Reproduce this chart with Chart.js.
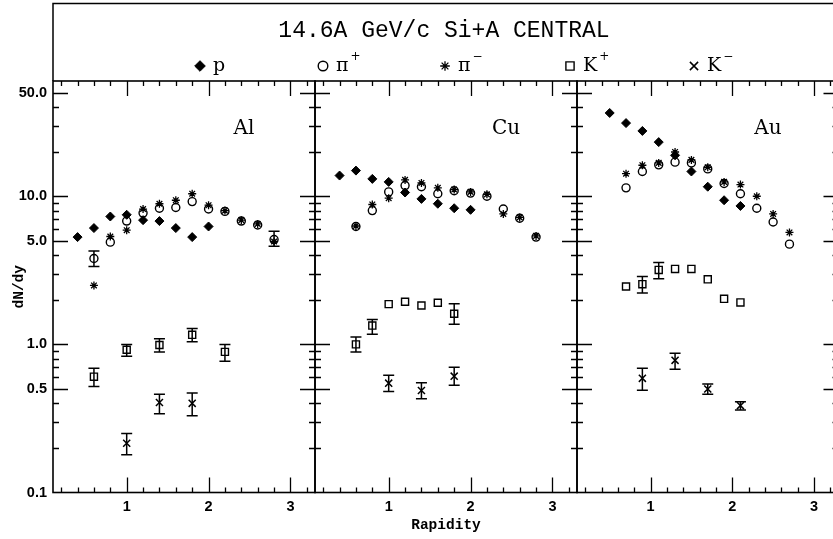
<!DOCTYPE html>
<html><head><meta charset="utf-8">
<script src="https://cdn.jsdelivr.net/npm/chart.js@4/dist/chart.umd.min.js"></script>
<style>
html,body{margin:0;padding:0;background:#fff;overflow:hidden}
#wrap{position:relative;width:833px;height:539px;overflow:hidden;background:#fff}
#wrap canvas{position:absolute;left:0;top:0}
</style></head>
<body><div id="wrap">
<canvas id="c0" width="845" height="539" style="width:845px;height:539px"></canvas>
<canvas id="c1" width="845" height="539" style="width:845px;height:539px"></canvas>
<canvas id="c2" width="845" height="539" style="width:845px;height:539px"></canvas>
</div>
<script>
// ---------------- data ----------------
const titleText = '14.6A GeV/c Si+A CENTRAL';
const speciesLabels = ['p', 'π+', 'π−', 'K+', 'K−'];
const panelNames = ['Al', 'Cu', 'Au'];
const xTickVals = [1, 2, 3];
const xTickLabels = ['1', '2', '3'];
const yTickVals = [0.1, 0.5, 1, 5, 10, 50];
const yTickLabels = ['0.1', '0.5', '1.0', '5.0', '10.0', '50.0'];

// Al
const alPX = [0.4, 0.6, 0.8, 1.0, 1.2, 1.4, 1.6, 1.8, 2.0];
const alP = [5.3, 6.1, 7.3, 7.5, 6.9, 6.8, 6.1, 5.3, 6.25];
const alPiX = [0.6, 0.8, 1.0, 1.2, 1.4, 1.6, 1.8, 2.0, 2.2, 2.4, 2.6, 2.8];
const alPip = [3.8, 4.9, 6.8, 7.7, 8.3, 8.4, 9.2, 8.2, 7.9, 6.8, 6.4, 5.1];
const alPipLo = [3.36, null, null, null, null, null, null, null, null, null, null, 4.6];
const alPipHi = [4.27, null, null, null, null, null, null, null, null, null, null, 5.8];
const alPim = [2.5, 5.35, 5.9, 8.2, 8.9, 9.4, 10.4, 8.7, 8.0, 6.9, 6.5, 4.95];
const alKpX = [0.6, 1.0, 1.4, 1.8, 2.2];
const alKp = [0.605, 0.92, 0.99, 1.16, 0.89];
const alKpLo = [0.52, 0.83, 0.89, 1.04, 0.77];
const alKpHi = [0.69, 1.0, 1.09, 1.28, 1.0];
const alKmX = [1.0, 1.4, 1.8];
const alKm = [0.215, 0.405, 0.40];
const alKmLo = [0.18, 0.34, 0.33];
const alKmHi = [0.25, 0.46, 0.47];

// Cu
const cuPX = [0.4, 0.6, 0.8, 1.0, 1.2, 1.4, 1.6, 1.8, 2.0];
const cuP = [13.8, 14.9, 13.1, 12.5, 10.6, 9.6, 8.9, 8.3, 8.1];
const cuPiX = [0.6, 0.8, 1.0, 1.2, 1.4, 1.6, 1.8, 2.0, 2.2, 2.4, 2.6, 2.8];
const cuPip = [6.25, 8.0, 10.7, 11.8, 11.6, 10.4, 10.9, 10.5, 10.0, 8.2, 7.1, 5.3];
const cuPim = [6.3, 8.8, 9.7, 12.9, 12.3, 11.4, 11.1, 10.7, 10.3, 7.6, 7.2, 5.4];
const cuKpX = [0.6, 0.8, 1.0, 1.2, 1.4, 1.6, 1.8];
const cuKp = [1.0, 1.34, 1.87, 1.94, 1.83, 1.91, 1.61];
const cuKpLo = [0.89, 1.17, null, null, null, null, 1.37];
const cuKpHi = [1.12, 1.47, null, null, null, null, 1.88];
const cuKmX = [1.0, 1.4, 1.8];
const cuKm = [0.547, 0.488, 0.61];
const cuKmLo = [0.48, 0.43, 0.53];
const cuKmHi = [0.62, 0.55, 0.70];

// Au
const auPX = [0.5, 0.7, 0.9, 1.1, 1.3, 1.5, 1.7, 1.9, 2.1];
const auP = [36.5, 31.2, 27.6, 23.2, 18.9, 14.7, 11.6, 9.4, 8.6];
const auPiX = [0.7, 0.9, 1.1, 1.3, 1.5, 1.7, 1.9, 2.1, 2.3, 2.5, 2.7];
const auPip = [11.4, 14.7, 16.3, 17.0, 16.8, 15.3, 12.2, 10.4, 8.3, 6.7, 4.75];
const auPim = [14.2, 16.2, 16.8, 19.9, 17.6, 15.7, 12.5, 12.0, 10.0, 7.6, 5.7];
const auKpX = [0.7, 0.9, 1.1, 1.3, 1.5, 1.7, 1.9, 2.1];
const auKp = [2.46, 2.55, 3.18, 3.23, 3.23, 2.75, 2.03, 1.92];
const auKpLo = [null, 2.22, 2.77, null, null, null, null, null];
const auKpHi = [null, 2.87, 3.57, null, null, null, null, null];
const auKmX = [0.9, 1.3, 1.7, 2.1];
const auKm = [0.59, 0.78, 0.50, 0.386];
const auKmLo = [0.49, 0.68, 0.46, 0.36];
const auKmHi = [0.69, 0.87, 0.54, 0.41];

// ---------------- styling / layout ----------------
const W = 845, H = 539;
const PANEL_LEFT0 = 53, PANEL_W = 262, PLOT_TOP = 81, PLOT_BOTTOM = 492.5;
const styles = [
  {pointStyle: 'rectRot', radius: 4.5, backgroundColor: '#000', borderColor: '#000', borderWidth: 1},
  {pointStyle: 'circle', radius: 4, backgroundColor: 'rgba(0,0,0,0)', borderColor: '#000', borderWidth: 1.4},
  {pointStyle: 'star', radius: 4, backgroundColor: 'rgba(0,0,0,0)', borderColor: '#000', borderWidth: 1.3},
  {pointStyle: 'rect', radius: 5, backgroundColor: 'rgba(0,0,0,0)', borderColor: '#000', borderWidth: 1.4},
  {pointStyle: 'crossRot', radius: 5, backgroundColor: 'rgba(0,0,0,0)', borderColor: '#000', borderWidth: 1.5}
];
const legendSymX = [200, 323, 445, 570, 694];
const legendY = 66;

function pts(xs, ys) { return xs.map((x, i) => ({x: x, y: ys[i]})); }

const panelData = [
  [[alPX, alP], [alPiX, alPip, alPipLo, alPipHi], [alPiX, alPim], [alKpX, alKp, alKpLo, alKpHi], [alKmX, alKm, alKmLo, alKmHi]],
  [[cuPX, cuP], [cuPiX, cuPip], [cuPiX, cuPim], [cuKpX, cuKp, cuKpLo, cuKpHi], [cuKmX, cuKm, cuKmLo, cuKmHi]],
  [[auPX, auP], [auPiX, auPip], [auPiX, auPim], [auKpX, auKp, auKpLo, auKpHi], [auKmX, auKm, auKmLo, auKmHi]]
];

const yMajor = [0.5, 1, 5, 10, 50];
const yMinor = [0.2, 0.3, 0.4, 0.6, 0.7, 0.8, 0.9, 2, 3, 4, 6, 7, 8, 9, 20, 30, 40];
const xMajor = [1, 2, 3];
const xMinor = [0.2, 0.4, 0.6, 0.8, 1.2, 1.4, 1.6, 1.8, 2.2, 2.4, 2.6, 2.8, 3.2];

const panelPlugin = {
  id: 'panelDecor',
  beforeDatasetsDraw(chart) {
    const ctx = chart.ctx, a = chart.chartArea;
    const xs = chart.scales.x, ys = chart.scales.y;
    ctx.save();
    ctx.strokeStyle = '#000';
    ctx.lineWidth = 1.6;
    ctx.strokeRect(a.left, a.top, a.right - a.left, a.bottom - a.top);
    ctx.lineWidth = 1.3;
    ctx.beginPath();
    const tickY = (v, len) => {
      const y = Math.round(ys.getPixelForValue(v)) + 0.5;
      ctx.moveTo(a.left, y); ctx.lineTo(a.left + len, y);
      ctx.moveTo(a.right, y); ctx.lineTo(a.right - len, y);
    };
    const tickX = (v, len) => {
      const x = Math.round(xs.getPixelForValue(v)) + 0.5;
      ctx.moveTo(x, a.bottom); ctx.lineTo(x, a.bottom - len);
      ctx.moveTo(x, a.top); ctx.lineTo(x, a.top + len);
    };
    yMajor.forEach(v => tickY(v, 15));
    yMinor.forEach(v => tickY(v, 6));
    xMajor.forEach(v => tickX(v, 15));
    xMinor.forEach(v => tickX(v, 5));
    ctx.stroke();
    ctx.restore();
  },
  afterDatasetsDraw(chart, args, opts) {
    const ctx = chart.ctx, a = chart.chartArea;
    const xs = chart.scales.x, ys = chart.scales.y;
    ctx.save();
    ctx.strokeStyle = '#000';
    ctx.lineWidth = 1.5;
    chart.data.datasets.forEach(ds => {
      if (!ds.errLo) return;
      ds.data.forEach((p, j) => {
        const lo = ds.errLo[j], hi = ds.errHi[j];
        if (lo == null || hi == null) return;
        const x = xs.getPixelForValue(p.x);
        const y1 = ys.getPixelForValue(lo), y2 = ys.getPixelForValue(hi);
        ctx.beginPath();
        ctx.moveTo(x, y1); ctx.lineTo(x, y2);
        ctx.moveTo(x - 5.5, y1); ctx.lineTo(x + 5.5, y1);
        ctx.moveTo(x - 5.5, y2); ctx.lineTo(x + 5.5, y2);
        ctx.stroke();
      });
    });
    // panel label
    ctx.fillStyle = '#000';
    ctx.font = '20px "DejaVu Serif"';
    ctx.textAlign = 'center';
    ctx.textBaseline = 'middle';
    ctx.fillText(opts.label, a.left + 191, 129);

    if (opts.header) {
      // header box
      ctx.lineWidth = 1.5;
      ctx.beginPath();
      ctx.moveTo(a.left, a.top); ctx.lineTo(a.left, 3.5); ctx.lineTo(W, 3.5);
      ctx.stroke();
      ctx.font = '23px "Liberation Mono"';
      ctx.textAlign = 'center';
      ctx.textBaseline = 'alphabetic';
      ctx.fillText(titleText, 444, 37);
      // legend
      chart.data.datasets.forEach((ds, i) => {
        const sx = legendSymX[i];
        ctx.fillStyle = ds.backgroundColor;
        ctx.strokeStyle = ds.borderColor;
        ctx.lineWidth = ds.borderWidth;
        if (Chart.helpers && Chart.helpers.drawPoint) {
          Chart.helpers.drawPoint(ctx, {pointStyle: ds.pointStyle, radius: ds.pointRadius + 0.8, rotation: 0, borderWidth: ds.borderWidth}, sx, legendY);
        }
        const lab = speciesLabels[i];
        const base = lab.charAt(0), sup = lab.slice(1);
        ctx.fillStyle = '#000';
        ctx.textAlign = 'left';
        ctx.textBaseline = 'alphabetic';
        ctx.font = '19px "DejaVu Serif"';
        const tx = sx + 13;
        ctx.fillText(base, tx, legendY + 5);
        if (sup) {
          const bw = ctx.measureText(base).width;
          ctx.font = '12px "DejaVu Serif"';
          ctx.fillText(sup, tx + bw + 2, legendY - 6);
        }
      });
    }
    ctx.restore();
  }
};

function makePanel(k) {
  const left = PANEL_LEFT0 + PANEL_W * k;
  const datasets = panelData[k].map((s, i) => ({
    label: speciesLabels[i],
    data: pts(s[0], s[1]),
    errLo: s[2] || null,
    errHi: s[3] || null,
    pointStyle: styles[i].pointStyle,
    pointRadius: styles[i].radius,
    pointHoverRadius: styles[i].radius,
    backgroundColor: styles[i].backgroundColor,
    borderColor: styles[i].borderColor,
    borderWidth: styles[i].borderWidth,
    pointBorderWidth: styles[i].borderWidth,
    showLine: false
  }));
  const tickFont = {family: 'Liberation Sans', weight: 'bold', size: 14.5};
  const titleFont = {family: 'Liberation Mono', weight: 'bold', size: 14.5};
  return new Chart(document.getElementById('c' + k), {
    type: 'scatter',
    data: {datasets: datasets},
    plugins: [panelPlugin],
    options: {
      responsive: false,
      animation: false,
      devicePixelRatio: 1,
      events: [],
      layout: {padding: {left: k === 0 ? 0 : left, right: W - left - PANEL_W, top: PLOT_TOP, bottom: 0}},
      plugins: {
        legend: {display: false},
        tooltip: {enabled: false},
        panelDecor: {label: panelNames[k], header: k === 0}
      },
      scales: {
        x: {
          type: 'linear', min: 0.1, max: 3.3,
          afterBuildTicks: s => { s.ticks = xTickVals.map(v => ({value: v})); },
          afterFit: s => { s.height = H - PLOT_BOTTOM; },
          ticks: {font: tickFont, color: '#000', padding: 6, maxRotation: 0, autoSkip: false,
                  callback: (v, i) => xTickLabels[i]},
          grid: {display: false, drawTicks: false},
          border: {display: false},
          title: {display: k === 1, text: 'Rapidity', font: titleFont, color: '#000', padding: {top: 0, bottom: 5}}
        },
        y: {
          type: 'logarithmic', min: 0.1, max: 60, display: k === 0, position: 'left',
          afterBuildTicks: s => { s.ticks = yTickVals.map(v => ({value: v})); },
          afterFit: s => { s.width = (k === 0) ? PANEL_LEFT0 : 0; },
          ticks: {font: tickFont, color: '#000', padding: 6, autoSkip: false,
                  callback: (v, i) => yTickLabels[i]},
          grid: {display: false, drawTicks: false},
          border: {display: false},
          title: {display: true, text: 'dN/dy', font: titleFont, color: '#000', padding: {top: 11, bottom: 0}}
        }
      }
    }
  });
}
[0, 1, 2].forEach(makePanel);
</script>
</body></html>
